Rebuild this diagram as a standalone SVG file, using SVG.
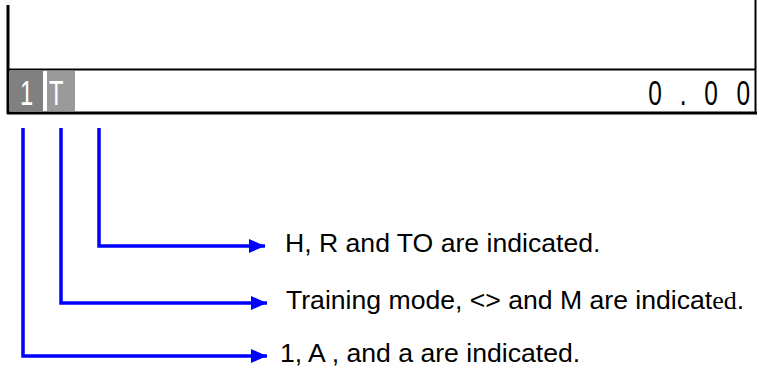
<svg xmlns="http://www.w3.org/2000/svg" width="759" height="376" viewBox="0 0 759 376">
<style>
.lbl{font-family:"Liberation Sans",Arial,sans-serif;font-size:26.6px;fill:#000}
.con{fill:none;stroke:#0000FF;stroke-width:3.5}
.disp{font-family:"Liberation Sans",Arial,sans-serif;font-size:35px}
</style>
<defs>
<marker id="ah" markerWidth="16" markerHeight="14" refX="16" refY="7" orient="auto" markerUnits="userSpaceOnUse">
<path d="M0,0 L16,7 L0,14 Z" fill="#0000FF"/>
</marker>
</defs>
<rect width="759" height="376" fill="#fff"/>
<g id="display">
<line x1="8" y1="5" x2="8" y2="114" stroke="#000" stroke-width="3"/>
<line x1="755.5" y1="0" x2="755.5" y2="114" stroke="#000" stroke-width="2"/>
<line x1="8" y1="69.5" x2="756" y2="69.5" stroke="#000" stroke-width="2"/>
<line x1="7" y1="113" x2="757" y2="113" stroke="#000" stroke-width="3"/>
<rect x="9" y="71" width="34" height="40" fill="#808080"/>
<rect x="47" y="71" width="28" height="40" fill="#9a9a9a"/>
<text class="disp" fill="#fff" transform="translate(20 105) scale(0.68 1)" x="0" y="0">1</text>
<text class="disp" fill="#fff" transform="translate(49 105) scale(0.68 1)" x="0" y="0">T</text>
<text class="disp" fill="#000" transform="translate(0 105) scale(0.7 1)" x="926 960 971 1000 1006 1047 1052">0 . 0 0</text>
</g>
<g id="connectors">
<polyline class="con" points="99,128 99,246 265,246" marker-end="url(#ah)"/>
<polyline class="con" points="61,128 61,303 267,303" marker-end="url(#ah)"/>
<polyline class="con" points="23,128 23,356 267,356" marker-end="url(#ah)"/>
</g>
<g id="label-h">
<text class="lbl" x="285" y="252">H, R and TO are indicated.</text>
</g>
<g id="label-training">
<text class="lbl" x="286" y="309">Training mode, &lt;&gt; and M are indicat<tspan font-family="'Liberation Serif',serif" font-size="26px">ed</tspan>.</text>
</g>
<g id="label-1">
<text class="lbl" x="280" y="362">1, A , and a are indicated.</text>
</g>
</svg>
